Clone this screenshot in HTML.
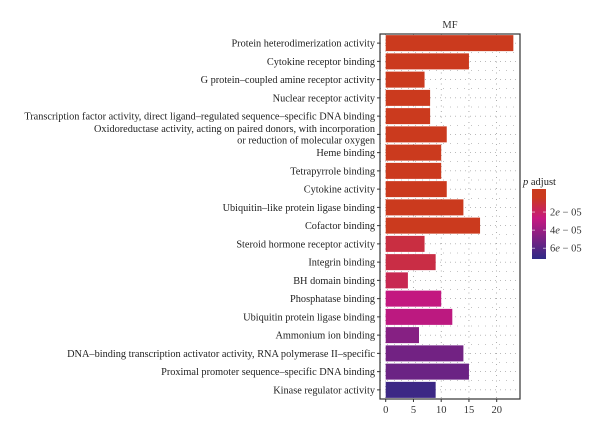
<!DOCTYPE html><html><head><meta charset="utf-8"><style>body{margin:0;background:#fff}svg{font-family:"Liberation Serif",serif}</style></head><body>
<svg id="c" width="600" height="436"></svg>
<script>
const categories=["Protein heterodimerization activity","Cytokine receptor binding","G protein\u2013coupled amine receptor activity","Nuclear receptor activity","Transcription factor activity, direct ligand\u2013regulated sequence\u2013specific DNA binding","Oxidoreductase activity, acting on paired donors, with incorporation|or reduction of molecular oxygen","Heme binding","Tetrapyrrole binding","Cytokine activity","Ubiquitin\u2013like protein ligase binding","Cofactor binding","Steroid hormone receptor activity","Integrin binding","BH domain binding","Phosphatase binding","Ubiquitin protein ligase binding","Ammonium ion binding","DNA\u2013binding transcription activator activity, RNA polymerase II\u2013specific","Proximal promoter sequence\u2013specific DNA binding","Kinase regulator activity"];
const counts=[23,15,7,8,8,11,10,10,11,14,17,7,9,4,10,12,6,14,15,9];
const padj=[0.1e-5,0.1e-5,0.2e-5,0.2e-5,0.2e-5,0.3e-5,0.3e-5,0.3e-5,0.3e-5,0.3e-5,0.3e-5,1.2e-5,1.3e-5,1.6e-5,2.8e-5,3.0e-5,4.6e-5,5.2e-5,5.4e-5,6.8e-5];
const xTicks=[0,5,10,15,20];
const legendTicks=["2e \u2212 05","4e \u2212 05","6e \u2212 05"];
const legendVals=[2e-5,4e-5,6e-5];
const NS="http://www.w3.org/2000/svg",svg=document.getElementById('c');
function mk(t,a,p){const e=document.createElementNS(NS,t);for(const k in a)e.setAttribute(k,a[k]);(p||svg).appendChild(e);return e;}
const L=380,R=520,T=34,B=399,x0=385.7,ppu=5.55;
const x=v=>x0+v*ppu;
const step=(B-T)/categories.length;
const y=i=>T+step*(i+0.5);
const pLo=-0.55e-5,pHi=7.2e-5;
const stops=[[0,[203,58,30]],[0.12,[203,58,30]],[0.42,[198,24,128]],[1,[46,42,134]]];
function col(p){let t=(p-pLo)/(pHi-pLo);t=Math.max(0,Math.min(1,t));
 for(let k=1;k<stops.length;k++){if(t<=stops[k][0]){const a=stops[k-1],b=stops[k];const u=(t-a[0])/(b[0]-a[0]||1);return 'rgb('+a[1].map((v,i)=>Math.round(v+(b[1][i]-v)*u))+')';}}
 return 'rgb('+stops[stops.length-1][1]+')';}
let e=mk('text',{x:450,y:28,'text-anchor':'middle','font-size':10.5,fill:'#333'});e.textContent='MF';

for(let i=0;i<categories.length;i++){const l=mk('line',{x1:L,x2:R,y1:y(i),y2:y(i),stroke:'#777','stroke-width':0.6,'stroke-dasharray':'1 4'});
 const l2=mk('line',{x1:L,x2:R,y1:y(i)+step/2,y2:y(i)+step/2,stroke:'#888','stroke-width':0.5,'stroke-dasharray':'1 6'});}
for(const v of [0,5,10,15,20]){const l=mk('line',{x1:x(v),x2:x(v),y1:T,y2:B,stroke:'#777','stroke-width':0.6,'stroke-dasharray':'1 4.5'});}
categories.forEach((c,i)=>{
 const r=mk('rect',{x:x(0),y:y(i)-8,width:x(counts[i])-x(0),height:16,fill:col(padj[i])});
 
 const parts=c.split('|');
 parts.forEach((p,j)=>{const t=mk('text',{x:375,y:y(i)+3.5+(j-(parts.length-1)/2)*11.5,'text-anchor':'end','font-size':10.3,fill:'#222'});t.textContent=p;
 });
 const tk=mk('line',{x1:L-3,x2:L,y1:y(i),y2:y(i),stroke:'#333'});
});
e=mk('rect',{x:L,y:T,width:R-L,height:B-T,fill:'none',stroke:'#333','stroke-width':1.2});

xTicks.forEach(v=>{const l=mk('line',{x1:x(v),x2:x(v),y1:B,y2:B+3,stroke:'#333'});
 const t=mk('text',{x:x(v),y:B+14,'text-anchor':'middle','font-size':10.5,fill:'#333'});t.textContent=v;});
const lt=mk('text',{x:523,y:185,'font-size':10.5,fill:'#222'});lt.innerHTML='<tspan font-style="italic">p</tspan> adjust';

const defs=mk('defs',{});const g=mk('linearGradient',{id:'lg',x1:0,y1:0,x2:0,y2:1},defs);
[0,0.12,0.25,0.42,0.7,1].forEach(o=>mk('stop',{offset:o,'stop-color':col(pLo+(pHi-pLo)*o)},g));
const cbT=189,cbB=259;
e=mk('rect',{x:532,y:cbT,width:14,height:cbB-cbT,fill:'url(#lg)'});
const ly=p=>cbT+(p-pLo)/(pHi-pLo)*(cbB-cbT);
legendVals.forEach((v,i)=>{mk('line',{x1:532,x2:535,y1:ly(v),y2:ly(v),stroke:'#fff','stroke-width':0.6});mk('line',{x1:543,x2:546,y1:ly(v),y2:ly(v),stroke:'#fff','stroke-width':0.6});
 const t=mk('text',{x:550,y:ly(v)+3.5,'font-size':10.5,fill:'#333'});t.innerHTML=legendTicks[i].replace('e','<tspan font-style="italic">e</tspan>');
 });
</script></body></html>
